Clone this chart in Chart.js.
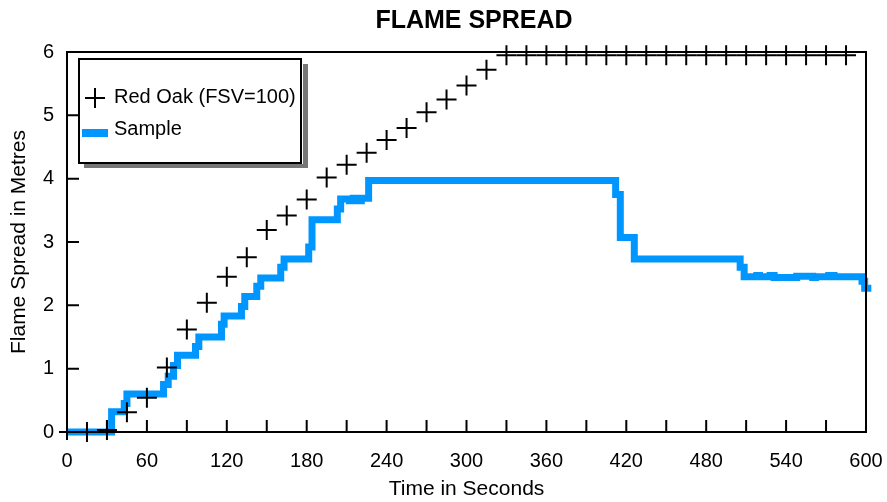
<!DOCTYPE html>
<html><head><meta charset="utf-8">
<script src="https://cdn.jsdelivr.net/npm/chart.js@4/dist/chart.umd.min.js"></script>
<style>html,body{margin:0;padding:0;background:#fff;overflow:hidden}#wrap{width:887px;height:502px}</style>
</head><body><div id="wrap"><canvas id="c" width="887" height="502"></canvas></div>
<script>
const chartTitle = 'FLAME SPREAD';
const xAxisTitle = 'Time in Seconds';
const yAxisTitle = 'Flame Spread in Metres';
const seriesNames = ['Red Oak (FSV=100)', 'Sample'];

const xTickValues = [0, 60, 120, 180, 240, 300, 360, 420, 480, 540, 600];
const yTickValues = [0, 1, 2, 3, 4, 5, 6];

const redOakTimes  = [15, 30, 45, 60, 75, 90, 105, 120, 135, 150, 165, 180, 195, 210, 225, 240, 255, 270, 285, 300, 315,
                      330, 345, 360, 375, 390, 405, 420, 435, 450, 465, 480, 495, 510, 525, 540, 555, 570, 585];
const redOakSpread = [0, 0.03, 0.31, 0.54, 1.02, 1.62, 2.04, 2.45, 2.76, 3.19, 3.42, 3.67, 4.02, 4.22, 4.41, 4.61, 4.80, 5.05, 5.25, 5.47, 5.72,
                      5.95, 5.95, 5.95, 5.95, 5.95, 5.95, 5.95, 5.95, 5.95, 5.95, 5.95, 5.95, 5.95, 5.95, 5.95, 5.95, 5.95, 5.95];

const sampleTimes  = [0, 33.5, 43, 45, 72.5, 76, 80, 83, 96.5, 99, 116, 118, 131, 133.5, 142.5, 145.5, 160.5, 163, 181.5, 184,
                      203, 205.5, 212, 215, 218, 221, 226.5, 412, 415.5, 426, 505.5, 508.5,
                      518, 520, 528, 531, 548, 560, 562, 572, 576, 597, 599, 604];
const sampleSpread = [0, 0.32, 0.45, 0.60, 0.75, 0.88, 1.05, 1.21, 1.35, 1.50, 1.70, 1.83, 1.98, 2.14, 2.30, 2.43, 2.60, 2.73, 2.92, 3.35,
                      3.52, 3.68, 3.65, 3.69, 3.65, 3.69, 3.97, 3.75, 3.07, 2.73, 2.60, 2.45,
                      2.47, 2.45, 2.47, 2.44, 2.46, 2.44, 2.45, 2.47, 2.45, 2.38, 2.27, 2.27];

const FONT = "'Liberation Sans', Arial, Helvetica, sans-serif";
const BLUE = '#0096ff';

const toPoints = (xs, ys) => xs.map((t, i) => ({x: t, y: ys[i]}));

const titlePlugin = {
  id: 'topTitle',
  afterDraw(chart) {
    const ctx = chart.ctx;
    ctx.save();
    ctx.font = 'bold 25px ' + FONT;
    ctx.fillStyle = '#000';
    ctx.textAlign = 'center';
    ctx.textBaseline = 'alphabetic';
    ctx.fillText(chartTitle, 474, 28);
    ctx.restore();
  }
};

const framePlugin = {
  id: 'frame',
  afterDatasetsDraw(chart) {
    const {ctx, chartArea: a, scales: {x, y}} = chart;
    ctx.save();
    ctx.strokeStyle = '#000';
    ctx.lineWidth = 2;
    ctx.beginPath();
    ctx.rect(a.left, a.top, a.right - a.left, a.bottom - a.top);
    ctx.moveTo(a.left - 8, a.bottom); ctx.lineTo(a.left, a.bottom);
    ctx.moveTo(a.left, a.bottom); ctx.lineTo(a.left, a.bottom + 8);
    for (let t = x.min; t <= x.max; t += 30) {
      const px = x.getPixelForValue(t);
      ctx.moveTo(px, a.bottom); ctx.lineTo(px, a.bottom - 12);
    }
    for (const v of yTickValues) {
      const py = y.getPixelForValue(v);
      ctx.moveTo(a.left, py); ctx.lineTo(a.left + 12, py);
    }
    ctx.stroke();
    ctx.restore();
  }
};

const legendPlugin = {
  id: 'boxLegend',
  afterDraw(chart) {
    const {ctx, chartArea: a} = chart;
    const ds = chart.data.datasets;
    const L = a.left + 12, T = a.top + 7, W = 224, H = 104;
    ctx.save();
    ctx.fillStyle = '#777';
    ctx.fillRect(L + 5, T + 5, W, H);
    ctx.fillStyle = '#fff';
    ctx.fillRect(L - 1, T - 1, W + 1, H + 2);
    ctx.strokeStyle = '#000';
    ctx.lineWidth = 2;
    ctx.strokeRect(L, T, W - 2, H);
    const cx = L + 16, cy1 = T + 39;
    ctx.beginPath();
    ctx.moveTo(cx - 10, cy1); ctx.lineTo(cx + 10, cy1);
    ctx.moveTo(cx, cy1 - 10); ctx.lineTo(cx, cy1 + 10);
    ctx.lineWidth = 2;
    ctx.stroke();
    const cy2 = T + 74;
    ctx.strokeStyle = ds[1].borderColor;
    ctx.lineWidth = 8;
    ctx.beginPath();
    ctx.moveTo(L + 3, cy2); ctx.lineTo(L + 29, cy2);
    ctx.stroke();
    ctx.fillStyle = '#000';
    ctx.font = '20px ' + FONT;
    ctx.textAlign = 'left';
    ctx.textBaseline = 'middle';
    ctx.fillText(ds[0].label, L + 35, cy1 - 1);
    ctx.fillText(ds[1].label, L + 35, cy2 - 4);
    ctx.restore();
  }
};

new Chart(document.getElementById('c'), {
  type: 'scatter',
  data: {
    datasets: [
      {
        label: seriesNames[0],
        data: toPoints(redOakTimes, redOakSpread),
        showLine: false,
        pointStyle: 'cross',
        pointRadius: 10,
        pointBorderWidth: 2,
        borderColor: '#000',
        backgroundColor: '#000',
        clip: false
      },
      {
        label: seriesNames[1],
        data: toPoints(sampleTimes, sampleSpread),
        showLine: true,
        stepped: true,
        borderColor: BLUE,
        backgroundColor: BLUE,
        borderWidth: 7,
        pointRadius: 0,
        borderJoinStyle: 'miter',
        borderCapStyle: 'butt',
        clip: false
      }
    ]
  },
  options: {
    responsive: false,
    animation: false,
    devicePixelRatio: 1,
    layout: {padding: {top: 52, right: 21, left: 0, bottom: 0}},
    plugins: {
      legend: {display: false},
      title: {display: false},
      tooltip: {enabled: false}
    },
    scales: {
      x: {
        type: 'linear',
        min: 0, max: 600,
        afterBuildTicks: s => { s.ticks = xTickValues.map(v => ({value: v})); },
        afterFit: s => { s.height = 70; s.paddingLeft = 0; s.paddingRight = 0; },
        grid: {display: false, drawTicks: false},
        border: {display: false},
        ticks: {color: '#000', font: {family: FONT, size: 20}, padding: 17, autoSkip: false, maxRotation: 0},
        title: {display: true, text: xAxisTitle, color: '#000', font: {family: FONT, size: 21}, padding: {top: 0, bottom: 0}}
      },
      y: {
        type: 'linear',
        min: 0, max: 6,
        afterBuildTicks: s => { s.ticks = yTickValues.map(v => ({value: v})); },
        afterFit: s => { s.width = 67; s.paddingTop = 0; s.paddingBottom = 0; },
        grid: {display: false, drawTicks: false},
        border: {display: false},
        ticks: {color: '#000', font: {family: FONT, size: 20}, padding: 13},
        title: {display: true, text: yAxisTitle, color: '#000', font: {family: FONT, size: 21}, padding: {top: 7, bottom: 0}}
      }
    }
  },
  plugins: [framePlugin, legendPlugin, titlePlugin]
});
</script>
</body></html>
